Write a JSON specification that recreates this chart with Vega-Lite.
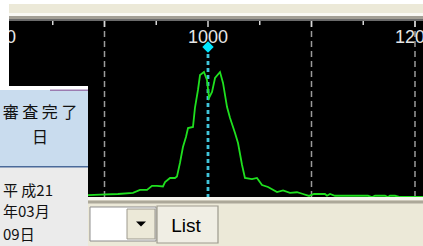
{
  "$schema": "https://vega.github.io/schema/vega-lite/v6.json",
  "width": 414,
  "height": 176,
  "autosize": {"type": "none"},
  "padding": {"left": 9, "top": 21, "right": 0, "bottom": 49},
  "background": "#ECE9D8",
  "config": {"view": {"fill": "#000000", "stroke": null}, "axis": {"disable": true}},
  "datasets": {
    "spectrum": [
      {"mass": 807.7, "intensity": 1.1}, {"mass": 884.1, "intensity": 1.1}, {"mass": 895.7, "intensity": 1.4},
      {"mass": 913.0, "intensity": 1.7}, {"mass": 927.5, "intensity": 2.4}, {"mass": 934.3, "intensity": 4.0},
      {"mass": 941.1, "intensity": 4.0}, {"mass": 945.9, "intensity": 6.3}, {"mass": 950.7, "intensity": 6.3},
      {"mass": 956.5, "intensity": 6.0}, {"mass": 958.5, "intensity": 8.5}, {"mass": 963.3, "intensity": 10.8},
      {"mass": 968.1, "intensity": 10.8}, {"mass": 970.0, "intensity": 11.6}, {"mass": 972.9, "intensity": 19.3},
      {"mass": 975.8, "intensity": 28.4}, {"mass": 978.7, "intensity": 34.1}, {"mass": 980.7, "intensity": 39.2},
      {"mass": 985.5, "intensity": 39.8}, {"mass": 987.4, "intensity": 50.6}, {"mass": 990.3, "intensity": 60.8},
      {"mass": 992.3, "intensity": 69.3}, {"mass": 996.1, "intensity": 71.0}, {"mass": 999.0, "intensity": 66.5},
      {"mass": 1001.0, "intensity": 56.3}, {"mass": 1003.9, "intensity": 59.7}, {"mass": 1006.8, "intensity": 67.6},
      {"mass": 1011.6, "intensity": 71.0}, {"mass": 1014.5, "intensity": 64.8}, {"mass": 1018.4, "intensity": 51.1},
      {"mass": 1021.3, "intensity": 44.9}, {"mass": 1026.1, "intensity": 36.4}, {"mass": 1029.0, "intensity": 30.7},
      {"mass": 1032.9, "intensity": 18.2}, {"mass": 1035.7, "intensity": 10.8}, {"mass": 1042.5, "intensity": 10.2},
      {"mass": 1047.3, "intensity": 10.8}, {"mass": 1052.2, "intensity": 6.8}, {"mass": 1058.0, "intensity": 5.7},
      {"mass": 1066.7, "intensity": 2.8}, {"mass": 1072.5, "intensity": 3.7}, {"mass": 1079.2, "intensity": 2.3},
      {"mass": 1086.0, "intensity": 2.7}, {"mass": 1091.8, "intensity": 1.7}, {"mass": 1097.6, "intensity": 0.6},
      {"mass": 1102.4, "intensity": 1.7}, {"mass": 1113.0, "intensity": 1.7}, {"mass": 1115.0, "intensity": 0.7},
      {"mass": 1117.9, "intensity": 1.7}, {"mass": 1122.7, "intensity": 0.7}, {"mass": 1154.6, "intensity": 0.7},
      {"mass": 1158.5, "intensity": 0.0}, {"mass": 1161.4, "intensity": 0.7}, {"mass": 1171.0, "intensity": 0.7},
      {"mass": 1173.9, "intensity": 0.0}, {"mass": 1175.8, "intensity": 0.7}, {"mass": 1180.7, "intensity": 0.7},
      {"mass": 1185.5, "intensity": 0.0}, {"mass": 1207.7, "intensity": 0.0}
    ],
    "grid": [{"mass": 900}, {"mass": 1100}, {"mass": 1200}],
    "majorTicks": [{"mass": 900}, {"mass": 1000}, {"mass": 1100}, {"mass": 1200}],
    "minorTicks": [{"mass": 850}, {"mass": 950}, {"mass": 1050}, {"mass": 1150}],
    "labels": [{"mass": 800, "label": "800"}, {"mass": 1000, "label": "1000"}, {"mass": 1200, "label": "1200"}],
    "marker": [{"mass": 1000, "intensity": 85.2}]
  },
  "layer": [
    {
      "data": {"name": "grid"},
      "mark": {"type": "rule", "color": "#9a9a9a", "strokeWidth": 1.5, "strokeDash": [6, 4]},
      "encoding": {
        "x": {"field": "mass", "type": "quantitative", "scale": {"domain": [807.73, 1207.73], "nice": false, "zero": false}},
        "y": {"datum": 100, "type": "quantitative", "scale": {"domain": [0, 100], "nice": false, "zero": false}},
        "y2": {"datum": 0}
      }
    },
    {
      "data": {"name": "majorTicks"},
      "mark": {"type": "rule", "color": "#d8d8d8", "strokeWidth": 1.5},
      "encoding": {
        "x": {"field": "mass", "type": "quantitative", "scale": {"domain": [807.73, 1207.73], "nice": false, "zero": false}},
        "y": {"datum": 100, "type": "quantitative", "scale": {"domain": [0, 100], "nice": false, "zero": false}},
        "y2": {"datum": 96.6}
      }
    },
    {
      "data": {"name": "minorTicks"},
      "mark": {"type": "rule", "color": "#d8d8d8", "strokeWidth": 1.5},
      "encoding": {
        "x": {"field": "mass", "type": "quantitative", "scale": {"domain": [807.73, 1207.73], "nice": false, "zero": false}},
        "y": {"datum": 100, "type": "quantitative", "scale": {"domain": [0, 100], "nice": false, "zero": false}},
        "y2": {"datum": 97.7}
      }
    },
    {
      "data": {"name": "marker"},
      "mark": {"type": "rule", "color": "#40c4da", "strokeWidth": 2.8, "strokeDash": [4, 3]},
      "encoding": {
        "x": {"field": "mass", "type": "quantitative", "scale": {"domain": [807.73, 1207.73], "nice": false, "zero": false}},
        "y": {"field": "intensity", "type": "quantitative", "scale": {"domain": [0, 100], "nice": false, "zero": false}},
        "y2": {"datum": 0}
      }
    },
    {
      "data": {"name": "spectrum"},
      "mark": {"type": "line", "color": "#1fe01f", "strokeWidth": 1.8},
      "encoding": {
        "x": {"field": "mass", "type": "quantitative", "scale": {"domain": [807.73, 1207.73], "nice": false, "zero": false}},
        "y": {"field": "intensity", "type": "quantitative", "scale": {"domain": [0, 100], "nice": false, "zero": false}}
      }
    },
    {
      "data": {"name": "marker"},
      "mark": {"type": "point", "shape": "diamond", "filled": true, "color": "#00e6ff", "size": 130, "opacity": 1},
      "encoding": {
        "x": {"field": "mass", "type": "quantitative", "scale": {"domain": [807.73, 1207.73], "nice": false, "zero": false}},
        "y": {"field": "intensity", "type": "quantitative", "scale": {"domain": [0, 100], "nice": false, "zero": false}}
      }
    },
    {
      "data": {"name": "labels"},
      "mark": {"type": "text", "font": "Liberation Sans", "fontSize": 18, "color": "#e6e6e6", "baseline": "alphabetic", "align": "center", "clip": true},
      "encoding": {
        "x": {"field": "mass", "type": "quantitative", "scale": {"domain": [807.73, 1207.73], "nice": false, "zero": false}},
        "y": {"datum": 87.5, "type": "quantitative", "scale": {"domain": [0, 100], "nice": false, "zero": false}},
        "text": {"field": "label"}
      }
    },
    {
      "data": {"values": [{}]},
      "layer": [
        {"mark": {"type": "rect", "color": "#ffffff"},
         "encoding": {"x": {"datum": 799.03, "type": "quantitative", "scale": {"domain": [807.73, 1207.73], "nice": false, "zero": false}}, "x2": {"datum": 1207.73},
                      "y": {"datum": 111.9, "type": "quantitative", "scale": {"domain": [0, 100], "nice": false, "zero": false}}, "y2": {"datum": 109.7}}},
        {"mark": {"type": "rect", "color": "#ffffff"},
         "encoding": {"x": {"datum": 799.03, "type": "quantitative", "scale": {"domain": [807.73, 1207.73], "nice": false, "zero": false}}, "x2": {"datum": 807.73},
                      "y": {"datum": 111.9, "type": "quantitative", "scale": {"domain": [0, 100], "nice": false, "zero": false}}, "y2": {"datum": 63.07}}},
        {"mark": {"type": "rect", "color": "#faf9f4"},
         "encoding": {"x": {"datum": 807.73, "type": "quantitative", "scale": {"domain": [807.73, 1207.73], "nice": false, "zero": false}}, "x2": {"datum": 1207.73},
                      "y": {"datum": 104.5, "type": "quantitative", "scale": {"domain": [0, 100], "nice": false, "zero": false}}, "y2": {"datum": 102.8}}},
        {"mark": {"type": "rect", "color": "#a39f95"},
         "encoding": {"x": {"datum": 807.73, "type": "quantitative", "scale": {"domain": [807.73, 1207.73], "nice": false, "zero": false}}, "x2": {"datum": 1207.73},
                      "y": {"datum": 102.8, "type": "quantitative", "scale": {"domain": [0, 100], "nice": false, "zero": false}}, "y2": {"datum": 101.1}}},
        {"mark": {"type": "rect", "color": "#6b6b6b"},
         "encoding": {"x": {"datum": 807.73, "type": "quantitative", "scale": {"domain": [807.73, 1207.73], "nice": false, "zero": false}}, "x2": {"datum": 1207.73},
                      "y": {"datum": 101.1, "type": "quantitative", "scale": {"domain": [0, 100], "nice": false, "zero": false}}, "y2": {"datum": 100}}},
        {"mark": {"type": "rect", "color": "#f6f5ef"},
         "encoding": {"x": {"datum": 807.73, "type": "quantitative", "scale": {"domain": [807.73, 1207.73], "nice": false, "zero": false}}, "x2": {"datum": 1207.73},
                      "y": {"datum": 0, "type": "quantitative", "scale": {"domain": [0, 100], "nice": false, "zero": false}}, "y2": {"datum": -1.7}}},
        {"mark": {"type": "rect", "color": "#aca899"},
         "encoding": {"x": {"datum": 807.73, "type": "quantitative", "scale": {"domain": [807.73, 1207.73], "nice": false, "zero": false}}, "x2": {"datum": 1207.73},
                      "y": {"datum": -1.99, "type": "quantitative", "scale": {"domain": [0, 100], "nice": false, "zero": false}}, "y2": {"datum": -3.69}}},
        {"mark": {"type": "rect", "color": "#ebebeb"},
         "encoding": {"x": {"datum": 799.03, "type": "quantitative", "scale": {"domain": [807.73, 1207.73], "nice": false, "zero": false}}, "x2": {"datum": 884.06},
                      "y": {"datum": 63.07, "type": "quantitative", "scale": {"domain": [0, 100], "nice": false, "zero": false}}, "y2": {"datum": -27.84}}},
        {"mark": {"type": "rect", "color": "#ffffff"},
         "encoding": {"x": {"datum": 799.03, "type": "quantitative", "scale": {"domain": [807.73, 1207.73], "nice": false, "zero": false}}, "x2": {"datum": 884.06},
                      "y": {"datum": 63.07, "type": "quantitative", "scale": {"domain": [0, 100], "nice": false, "zero": false}}, "y2": {"datum": 60.8}}},
        {"mark": {"type": "rect", "color": "#c9dcee"},
         "encoding": {"x": {"datum": 799.03, "type": "quantitative", "scale": {"domain": [807.73, 1207.73], "nice": false, "zero": false}}, "x2": {"datum": 884.06},
                      "y": {"datum": 60.8, "type": "quantitative", "scale": {"domain": [0, 100], "nice": false, "zero": false}}, "y2": {"datum": 17.61}}},
        {"mark": {"type": "rect", "color": "#9b7bb0"},
         "encoding": {"x": {"datum": 847.34, "type": "quantitative", "scale": {"domain": [807.73, 1207.73], "nice": false, "zero": false}}, "x2": {"datum": 884.06},
                      "y": {"datum": 61.1, "type": "quantitative", "scale": {"domain": [0, 100], "nice": false, "zero": false}}, "y2": {"datum": 60.2}}},
        {"mark": {"type": "rect", "color": "#4a6a9a"},
         "encoding": {"x": {"datum": 799.03, "type": "quantitative", "scale": {"domain": [807.73, 1207.73], "nice": false, "zero": false}}, "x2": {"datum": 884.06},
                      "y": {"datum": 17.61, "type": "quantitative", "scale": {"domain": [0, 100], "nice": false, "zero": false}}, "y2": {"datum": 16.76}}},
        {"mark": {"type": "text", "font": "Noto Sans CJK JP", "fontSize": 16, "color": "#111111", "baseline": "middle", "align": "center", "text": "審 査 完 了"},
         "encoding": {"x": {"datum": 837.7, "type": "quantitative", "scale": {"domain": [807.73, 1207.73], "nice": false, "zero": false}},
                      "y": {"datum": 47.73, "type": "quantitative", "scale": {"domain": [0, 100], "nice": false, "zero": false}}}},
        {"mark": {"type": "text", "font": "Noto Sans CJK JP", "fontSize": 16, "color": "#111111", "baseline": "middle", "align": "center", "text": "日"},
         "encoding": {"x": {"datum": 837.7, "type": "quantitative", "scale": {"domain": [807.73, 1207.73], "nice": false, "zero": false}},
                      "y": {"datum": 33.52, "type": "quantitative", "scale": {"domain": [0, 100], "nice": false, "zero": false}}}},
        {"mark": {"type": "text", "font": "Noto Sans CJK JP", "fontSize": 15, "color": "#111111", "baseline": "middle", "align": "left", "text": "平 成21"},
         "encoding": {"x": {"datum": 801.93, "type": "quantitative", "scale": {"domain": [807.73, 1207.73], "nice": false, "zero": false}},
                      "y": {"datum": 3.41, "type": "quantitative", "scale": {"domain": [0, 100], "nice": false, "zero": false}}}},
        {"mark": {"type": "text", "font": "Noto Sans CJK JP", "fontSize": 15, "color": "#111111", "baseline": "middle", "align": "left", "text": "年03月"},
         "encoding": {"x": {"datum": 801.93, "type": "quantitative", "scale": {"domain": [807.73, 1207.73], "nice": false, "zero": false}},
                      "y": {"datum": -8.24, "type": "quantitative", "scale": {"domain": [0, 100], "nice": false, "zero": false}}}},
        {"mark": {"type": "text", "font": "Noto Sans CJK JP", "fontSize": 15, "color": "#111111", "baseline": "middle", "align": "left", "text": "09日"},
         "encoding": {"x": {"datum": 801.93, "type": "quantitative", "scale": {"domain": [807.73, 1207.73], "nice": false, "zero": false}},
                      "y": {"datum": -21.31, "type": "quantitative", "scale": {"domain": [0, 100], "nice": false, "zero": false}}}},
        {"mark": {"type": "rect", "color": "#ffffff", "stroke": "#8c8c8c", "strokeWidth": 1},
         "encoding": {"x": {"datum": 885.99, "type": "quantitative", "scale": {"domain": [807.73, 1207.73], "nice": false, "zero": false}}, "x2": {"datum": 949.76},
                      "y": {"datum": -5.68, "type": "quantitative", "scale": {"domain": [0, 100], "nice": false, "zero": false}}, "y2": {"datum": -25.0}}},
        {"mark": {"type": "rect", "color": "#ece9d8", "stroke": "#9d9a8e", "strokeWidth": 1},
         "encoding": {"x": {"datum": 921.74, "type": "quantitative", "scale": {"domain": [807.73, 1207.73], "nice": false, "zero": false}}, "x2": {"datum": 948.79},
                      "y": {"datum": -6.82, "type": "quantitative", "scale": {"domain": [0, 100], "nice": false, "zero": false}}, "y2": {"datum": -23.86}}},
        {"mark": {"type": "point", "shape": "M-1,-0.5L1,-0.5L0,0.5Z", "filled": true, "color": "#000000", "size": 100, "opacity": 1},
         "encoding": {"x": {"datum": 935.27, "type": "quantitative", "scale": {"domain": [807.73, 1207.73], "nice": false, "zero": false}},
                      "y": {"datum": -15.34, "type": "quantitative", "scale": {"domain": [0, 100], "nice": false, "zero": false}}}},
        {"mark": {"type": "rect", "color": "#f0eee4", "stroke": "#9d9a8e", "strokeWidth": 1.2},
         "encoding": {"x": {"datum": 950.72, "type": "quantitative", "scale": {"domain": [807.73, 1207.73], "nice": false, "zero": false}}, "x2": {"datum": 1009.66},
                      "y": {"datum": -5.11, "type": "quantitative", "scale": {"domain": [0, 100], "nice": false, "zero": false}}, "y2": {"datum": -26.14}}},
        {"mark": {"type": "text", "font": "Liberation Sans", "fontSize": 19, "color": "#000000", "baseline": "middle", "align": "center", "text": "List"},
         "encoding": {"x": {"datum": 978.74, "type": "quantitative", "scale": {"domain": [807.73, 1207.73], "nice": false, "zero": false}},
                      "y": {"datum": -16.48, "type": "quantitative", "scale": {"domain": [0, 100], "nice": false, "zero": false}}}}
      ]
    }
  ]
}
